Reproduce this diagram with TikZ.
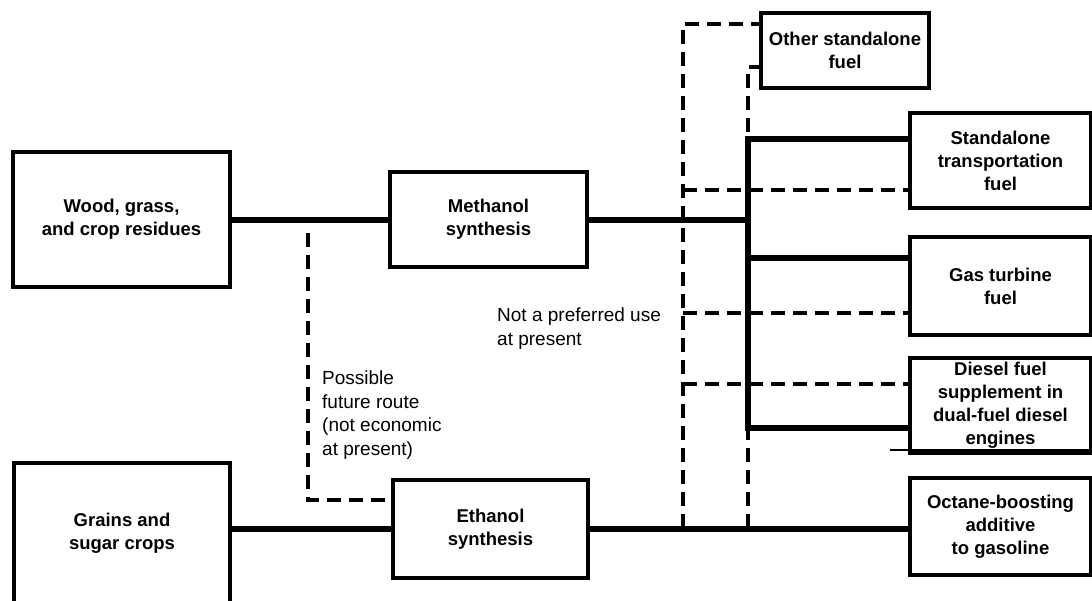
\documentclass[tikz,border=0pt]{standalone}
\usepackage{fontspec}
\setmainfont{Liberation Sans}

\begin{document}
\begin{tikzpicture}[x=1pt, y=-1pt,
    box/.style={draw, line width=3.2pt, align=center, inner sep=0pt,
      font=\bfseries\fontsize{18.5}{23}\selectfont},
    pipe/.style={line width=6pt},
    maybe/.style={line width=3.4pt, dash pattern=on 14pt off 8pt},
    note/.style={align=left, inner sep=0pt, font=\fontsize{19}{23.5}\selectfont}]
    \useasboundingbox (0,0) rectangle (1092,600);
    \clip (0,0) rectangle (1092,600);
    % feedstocks and synthesis
    \node[box, minimum width=217, minimum height=135] (wood) at (121.5,219.5) {Wood, grass,\\and crop residues};
    \node[box, minimum width=197, minimum height=95] (meth) at (488.5,219.5) {Methanol\\synthesis};
    \node[box, minimum width=216, minimum height=140] (grains) at (122,533) {Grains and\\sugar crops};
    \node[box, minimum width=195, minimum height=98] (eth) at (490.5,529) {Ethanol\\synthesis};
    % uses
    \node[box, minimum width=168, minimum height=75] (other) at (845,50.5) {Other standalone\\fuel};
    \node[box, minimum width=181, minimum height=95] (stand) at (1000.5,160.5) {Standalone\\transportation\\fuel};
    \node[box, minimum width=181, minimum height=98] (gas) at (1000.5,286) {Gas turbine\\fuel};
    \node[box, minimum width=181, minimum height=95] (diesel) at (1000.5,405.5) {Diesel fuel\\supplement in\\dual-fuel diesel\\engines};
    \node[box, minimum width=181, minimum height=97] (octane) at (1000.5,526.5) {Octane-boosting\\additive\\to gasoline};
    \draw[line width=1.2pt] (890,450) -- (1092,450);
    % solid routes
    \coordinate (top) at (748,139);
    \coordinate (bot) at (748,428);
    \draw[pipe] (wood.east) -- (meth.west);
    \draw[pipe] (meth.east) -- (meth.east -| top);
    \draw[pipe] (top -| stand.west) -- (top) -- (bot) -- (bot -| diesel.west);
    \draw[pipe] (top |- 0,258) -- (gas.west |- 0,258);
    \draw[pipe] (grains.east |- eth.west) -- (eth.west);
    \draw[pipe] (eth.east) -- (eth.east -| octane.west);
    % dashed routes
    \coordinate (fork) at (308,233);
    \coordinate (outer) at (683,528);
    \coordinate (inner) at (748,528);
    \draw[maybe] (fork) -- (fork |- 0,500) -- (eth.west |- 0,500);
    \draw[maybe] (outer) -- (683,24) -- (other.west |- 0,24);
    \draw[maybe] (inner) -- (748,67) -- (other.west |- 0,67);
    \foreach \y/\to in {190/stand, 313/gas, 384/diesel}
      \draw[maybe] (683,\y) -- (\to.west |- 0,\y);
    % notes
    \node[note, anchor=west] (future) at (322,415) {Possible\\future route\\(not economic\\at present)};
    \node[note, anchor=west] (notnow) at (497,328.5) {Not a preferred use\\at present};
\end{tikzpicture}
\end{document}
